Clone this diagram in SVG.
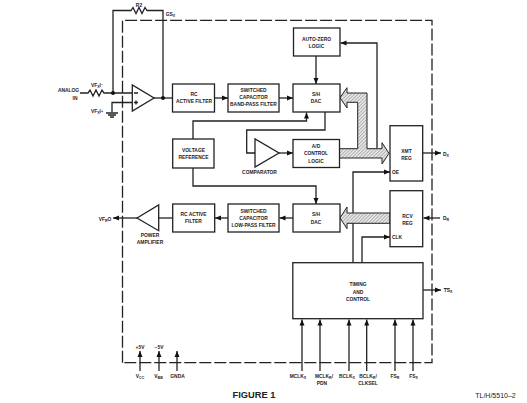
<svg xmlns="http://www.w3.org/2000/svg" width="527" height="403" viewBox="0 0 527 403">
<style>
text{font-family:"Liberation Sans",Arial,sans-serif;font-size:4.9px;font-weight:bold;fill:#222;text-anchor:middle}
.b{fill:#fff;stroke:#222;stroke-width:1.3}
.l{fill:none;stroke:#222;stroke-width:1.3}
.bus{fill:url(#h);stroke:#222;stroke-width:1}
.s{font-size:3.6px}
</style>
<defs>
<marker id="a" markerUnits="userSpaceOnUse" markerWidth="7" markerHeight="7" refX="6" refY="3" orient="auto"><path d="M0 0.500L6 3L0 5.500Z" fill="#111"/></marker>
<pattern id="h" patternUnits="userSpaceOnUse" width="2.4" height="2.4" patternTransform="rotate(45)"><rect width="2.4" height="2.4" fill="#eee"/><rect width="1" height="2.4" fill="#aaa"/></pattern>
</defs>
<rect width="527" height="403" fill="#fff"/>
<path d="M122.500 362.700V20.300H432V362.700Z" fill="none" stroke="#222" stroke-width="1.3" stroke-dasharray="12 3"/>
<g id="connectors">
<path class="l" d="M80 93H88L90 90L93 96L96 90L99 96L102 90L104 93H132"/>
<path class="l" d="M113 93V10.500H131L133 7.500L136 13.500L139 7.500L142 13.500L145 7.500L147 10.500H163V98"/>
<path class="l" d="M154 98H172"/>
<path class="l" d="M132 102.500H112V112M106 113H118M108 115H116M110 117H114"/>
<path class="l" d="M214.500 98H228" marker-end="url(#a)"/>
<path class="l" d="M279 98H293" marker-end="url(#a)"/>
<path class="l" d="M316 56V84" marker-end="url(#a)"/>
<path class="l" d="M377 148V43H340.500" marker-end="url(#a)"/>
<path class="l" d="M325 112V130H246.700V153H255"/>
<path class="l" d="M279 153H293" marker-end="url(#a)"/>
<path class="l" d="M193 139V121H306.500V112.500" marker-end="url(#a)"/>
<path class="l" d="M193 168V186H316V204" marker-end="url(#a)"/>
<path class="l" d="M293 218H279.500" marker-end="url(#a)"/>
<path class="l" d="M228 218H215" marker-end="url(#a)"/>
<path class="l" d="M172.500 218H158"/>
<path class="l" d="M137 218H113" marker-end="url(#a)"/>
<path class="l" d="M353 263V172H390" marker-end="url(#a)"/>
<path class="l" d="M362 263V237H390" marker-end="url(#a)"/>
<path class="l" d="M422.700 153H441" marker-end="url(#a)"/>
<path class="l" d="M440 218H423.500" marker-end="url(#a)"/>
<path class="l" d="M423 290H441" marker-end="url(#a)"/>
<path class="l" d="M302 371V319.500" marker-end="url(#a)"/>
<path class="l" d="M320 371V319.500" marker-end="url(#a)"/>
<path class="l" d="M349 371V319.500" marker-end="url(#a)"/>
<path class="l" d="M366.700 371V319.500" marker-end="url(#a)"/>
<path class="l" d="M395 371V319.500" marker-end="url(#a)"/>
<path class="l" d="M413 371V319.500" marker-end="url(#a)"/>
<path class="l" d="M140 371V351" marker-end="url(#a)"/>
<path class="l" d="M159 371V351" marker-end="url(#a)"/>
<path class="l" d="M177 371V351" marker-end="url(#a)"/>
<circle cx="113" cy="93" r="2" fill="#111"/>
<circle cx="163" cy="98" r="2" fill="#111"/>
<path class="bus" d="M339.500 148.700H357.700V102.300H347V108L340 97.700L347 87.700V93H367V148.700H382V142.700L389 153.300L382 164V158H339.500Z"/>
<path class="bus" d="M390 213H347V207L340 218L347 228.700V223.300H390Z"/>
</g>
<g id="auto-zero"><rect class="b" x="293.500" y="28" width="46.500" height="28"/><text x="316.500" y="40.500">AUTO-ZERO</text><text x="316.500" y="47.500">LOGIC</text></g>
<g id="sh-dac-top"><rect class="b" x="293" y="84" width="47" height="28"/><text x="316" y="96">S/H</text><text x="316" y="103">DAC</text></g>
<g id="ad-control"><rect class="b" x="293" y="139.500" width="46.500" height="28"/><text x="316" y="148">A/D</text><text x="316" y="155.300">CONTROL</text><text x="316" y="162.500">LOGIC</text></g>
<g id="xmt-reg"><rect class="b" x="390" y="125.700" width="32.700" height="55.300"/><text x="406.500" y="153">XMT</text><text x="406.500" y="160">REG</text><text x="395.500" y="174">OE</text></g>
<g id="rcv-reg"><rect class="b" x="390" y="190.700" width="32.700" height="56"/><text x="407.500" y="217.500">RCV</text><text x="407.500" y="224.500">REG</text><text x="397" y="239">CLK</text></g>
<g id="timing"><rect class="b" x="292.800" y="262.700" width="130.200" height="56"/><text x="358" y="286">TIMING</text><text x="358" y="293.500">AND</text><text x="358" y="300.500">CONTROL</text></g>
<g id="sh-dac-bottom"><rect class="b" x="293" y="204" width="47" height="28"/><text x="316" y="216">S/H</text><text x="316" y="223.500">DAC</text></g>
<g id="sc-lowpass"><rect class="b" x="228" y="204" width="51" height="28"/><text x="253.500" y="212.500">SWITCHED</text><text x="253.500" y="220">CAPACITOR</text><text x="253.500" y="227">LOW-PASS FILTER</text></g>
<g id="rc-bottom"><rect class="b" x="172.700" y="204" width="42" height="28"/><text x="193.500" y="216">RC ACTIVE</text><text x="193.500" y="223">FILTER</text></g>
<g id="power-amp"><path class="b" d="M137 218L158.700 205V230.700Z"/><text x="150" y="236.500">POWER</text><text x="150" y="244">AMPLIFIER</text></g>
<g id="voltage-ref"><rect class="b" x="172.700" y="139" width="41.300" height="29"/><text x="193.500" y="152">VOLTAGE</text><text x="193.500" y="159">REFERENCE</text></g>
<g id="comparator"><path class="b" d="M255 139V167L279 153Z"/><text x="259.500" y="174">COMPARATOR</text></g>
<g id="rc-top"><rect class="b" x="172.500" y="84" width="42" height="28"/><text x="194" y="96">RC</text><text x="194" y="103">ACTIVE FILTER</text></g>
<g id="sc-bandpass"><rect class="b" x="228" y="84" width="51" height="28"/><text x="253.500" y="91.500">SWITCHED</text><text x="253.500" y="98.500">CAPACITOR</text><text x="253.500" y="105.500">BAND-PASS FILTER</text></g>
<g id="opamp"><path class="b" d="M132.300 85V111L154 98Z"/><path class="l" d="M134 93H138M134 102.500H138M136 100.500V104.500" stroke-width="0.800"/></g>
<g id="labels">
<text x="68.500" y="92">ANALOG</text><text x="75" y="99.500">IN</text>
<text x="97" y="87">VF<tspan class="s" dy="1">X</tspan><tspan dy="-1">I</tspan><tspan class="s" dy="-1">−</tspan></text>
<text x="97" y="113">VF<tspan class="s" dy="1">X</tspan><tspan dy="-1">I</tspan><tspan class="s" dy="-1">+</tspan></text>
<text x="139" y="6.500">R2</text>
<text x="170.500" y="16">GS<tspan class="s" dy="1">X</tspan></text>
<text x="105" y="220.500">VF<tspan class="s" dy="1">R</tspan><tspan dy="-1">O</tspan></text>
<text x="446" y="155.500">D<tspan class="s" dy="1">X</tspan></text>
<text x="446" y="220">D<tspan class="s" dy="1">R</tspan></text>
<text x="448" y="292"><tspan text-decoration="overline">TS</tspan><tspan class="s" dy="1">X</tspan></text>
<text x="140" y="348.500">+5V</text><text x="159" y="348.500">−5V</text>
<text x="140" y="377.500">V<tspan class="s" dy="1">CC</tspan></text>
<text x="158.500" y="377.500">V<tspan class="s" dy="1">BB</tspan></text>
<text x="177.500" y="377.500">GNDA</text>
<text x="298" y="377.500">MCLK<tspan class="s" dy="1">X</tspan></text>
<text x="324" y="377.500">MCLK<tspan class="s" dy="1">R</tspan><tspan dy="-1">/</tspan></text>
<text x="322" y="385">PDN</text>
<text x="347" y="377.500">BCLK<tspan class="s" dy="1">X</tspan></text>
<text x="368" y="377.500">BCLK<tspan class="s" dy="1">R</tspan><tspan dy="-1">/</tspan></text>
<text x="368" y="385">CLKSEL</text>
<text x="395" y="377.500">FS<tspan class="s" dy="1">R</tspan></text>
<text x="413.500" y="377.500">FS<tspan class="s" dy="1">X</tspan></text>
<text x="254" y="398" style="font-size:9.300px">FIGURE 1</text>
<text x="495.500" y="398" style="font-size:7px;font-weight:normal">TL/H/5510–2</text>
</g>
</svg>
